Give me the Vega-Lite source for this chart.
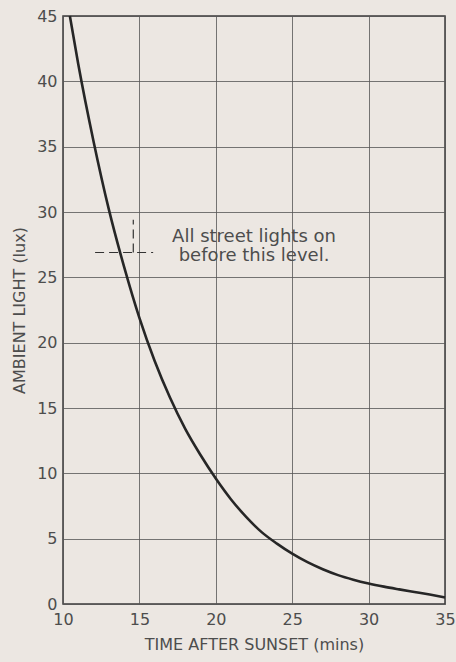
{
  "$schema": "https://vega.github.io/schema/vega-lite/v6.json",
  "width": 382,
  "height": 588,
  "autosize": "none",
  "padding": {"left": 63, "top": 16, "right": 11, "bottom": 58},
  "background": "#ece7e2",
  "config": {
    "view": {"stroke": "#3a3a3a", "strokeWidth": 1.5},
    "font": "DejaVu Sans",
    "axis": {
      "grid": true,
      "gridColor": "#555555",
      "gridWidth": 0.8,
      "gridOpacity": 1,
      "domain": false,
      "ticks": false,
      "labelColor": "#4d4d4d",
      "titleColor": "#4d4d4d",
      "labelFontSize": 16,
      "titleFontSize": 16,
      "titleFontWeight": "normal",
      "labelFont": "DejaVu Sans",
      "titleFont": "DejaVu Sans"
    }
  },
  "layer": [
    {
      "data": {"values": [
        {"t": 10.45, "lux": 45},
        {"t": 11, "lux": 41.3},
        {"t": 12, "lux": 35.4},
        {"t": 13, "lux": 30.2},
        {"t": 14, "lux": 25.8},
        {"t": 15, "lux": 21.9},
        {"t": 16, "lux": 18.6},
        {"t": 17, "lux": 15.8},
        {"t": 18, "lux": 13.4},
        {"t": 19, "lux": 11.4},
        {"t": 20, "lux": 9.6},
        {"t": 21, "lux": 8.0},
        {"t": 22, "lux": 6.65},
        {"t": 23, "lux": 5.5},
        {"t": 24, "lux": 4.62},
        {"t": 25, "lux": 3.85},
        {"t": 26, "lux": 3.2},
        {"t": 27, "lux": 2.66},
        {"t": 28, "lux": 2.21},
        {"t": 29, "lux": 1.86},
        {"t": 30, "lux": 1.57},
        {"t": 31, "lux": 1.33},
        {"t": 32, "lux": 1.12},
        {"t": 33, "lux": 0.92},
        {"t": 34, "lux": 0.72},
        {"t": 35, "lux": 0.5}
      ]},
      "mark": {"type": "line", "interpolate": "monotone", "color": "#262626", "strokeWidth": 2.6},
      "encoding": {
        "x": {
          "field": "t", "type": "quantitative",
          "scale": {"domain": [10, 35], "nice": false, "zero": false},
          "axis": {"values": [10, 15, 20, 25, 30, 35], "labelPadding": 7, "title": "TIME AFTER SUNSET  (mins)", "titlePadding": 9, "labelFlush": false}
        },
        "y": {
          "field": "lux", "type": "quantitative",
          "scale": {"domain": [0, 45], "nice": false},
          "axis": {"values": [0, 5, 10, 15, 20, 25, 30, 35, 40, 45], "labelPadding": 6, "title": "AMBIENT LIGHT  (lux)", "titlePadding": 9}
        }
      }
    },
    {
      "data": {"values": [
        {"x1": 12.1, "x2": 15.9, "y1": 26.9, "y2": 26.9},
        {"x1": 14.6, "x2": 14.6, "y1": 26.9, "y2": 29.4}
      ]},
      "mark": {"type": "rule", "color": "#333333", "strokeWidth": 1.2, "strokeDash": [9, 5]},
      "encoding": {
        "x": {"field": "x1", "type": "quantitative"},
        "x2": {"field": "x2"},
        "y": {"field": "y1", "type": "quantitative"},
        "y2": {"field": "y2"}
      }
    },
    {
      "data": {"values": [
        {"t": 22.5, "lux": 28.1, "label": "All street lights on"},
        {"t": 22.5, "lux": 26.6, "label": "before this level."}
      ]},
      "mark": {"type": "text", "align": "center", "baseline": "middle", "fontSize": 18, "color": "#4d4d4d", "font": "DejaVu Sans"},
      "encoding": {
        "x": {"field": "t", "type": "quantitative"},
        "y": {"field": "lux", "type": "quantitative"},
        "text": {"field": "label"}
      }
    }
  ]
}
